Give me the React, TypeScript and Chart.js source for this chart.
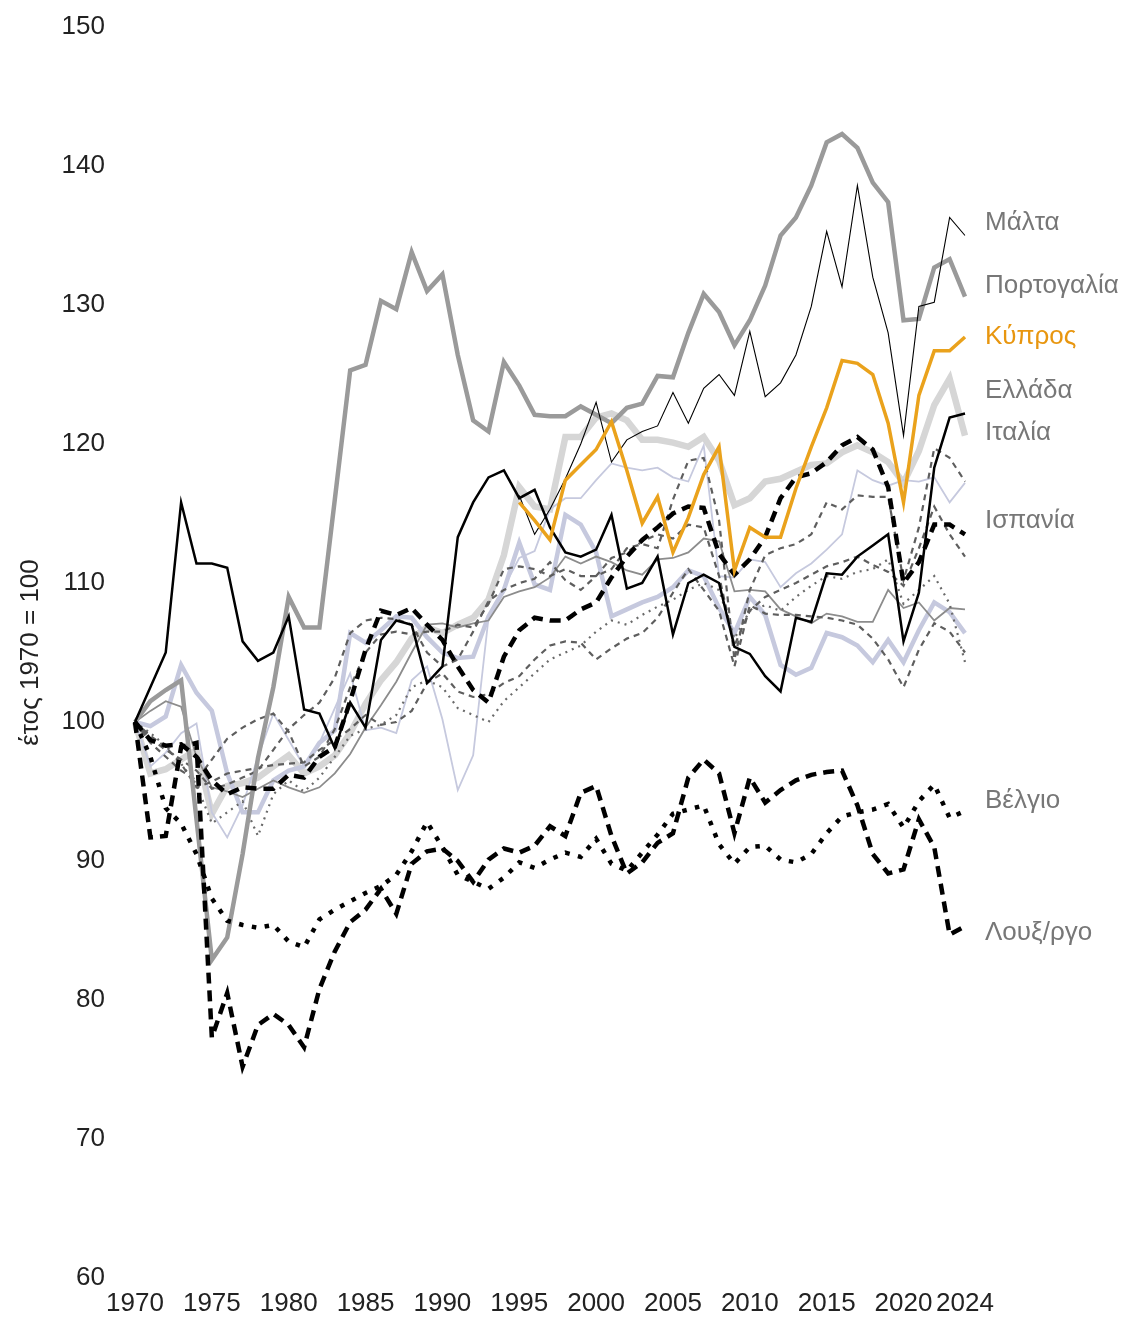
import React, { useEffect, useRef } from "react";
import { Chart, registerables } from "chart.js";

Chart.register(...registerables);

const years = [
  "1970","1971","1972","1973","1974","1975","1976","1977","1978","1979",
  "1980","1981","1982","1983","1984","1985","1986","1987","1988","1989",
  "1990","1991","1992","1993","1994","1995","1996","1997","1998","1999",
  "2000","2001","2002","2003","2004","2005","2006","2007","2008","2009",
  "2010","2011","2012","2013","2014","2015","2016","2017","2018","2019",
  "2020","2021","2022","2023","2024",
];

const xTickLabels = ["1970","1975","1980","1985","1990","1995","2000","2005","2010","2015","2020","2024"];
const yTicks = [60, 70, 80, 90, 100, 110, 120, 130, 140, 150];

const N = null;

const portugal = [
  100, 101.5, 102.3, 103, 93, 82.9, 84.5, 90.5, 97.4, 102.5,
  109, 106.8, 106.8, 116, 125.3, 125.7, 130.3, 129.7, 133.8, 131,
  132.2, 126.4, 121.7, 120.9, 125.9, 124.2, 122.1, 122, 122, 122.7,
  122.1, 121.5, 122.6, 122.9, 124.9, 124.8, 128, 130.8, 129.5, 127.1,
  128.9, 131.4, 135, 136.3, 138.6, 141.7, 142.3, 141.3, 138.8, 137.4,
  128.9, 129, 132.7, 133.3, 130.6,
];

const malta = [
  N, N, N, N, N, N, N, N, N, N,
  N, N, N, N, N, N, N, N, N, N,
  N, N, N, N, N, 116.3, 113.5, 115.3, 117.5, 120,
  123, 118.7, 120.3, 120.9, 121.3, 123.7, 121.5, 124, 125, 123.5,
  128.1, 123.4, 124.4, 126.4, 129.9, 135.3, 131.3, 138.6, 132, 128,
  120.6, 129.9, 130.2, 136.3, 135,
];

const cyprus = [
  N, N, N, N, N, N, N, N, N, N,
  N, N, N, N, N, N, N, N, N, N,
  N, N, N, N, N, 115.8, 114.5, 113.1, 117.4, 118.5,
  119.6, 121.6, 118.1, 114.3, 116.2, 112.2, 114.7, 117.8, 119.8, 110.9,
  114, 113.3, 113.3, 116.8, 119.8, 122.6, 126, 125.8, 125, 121.5,
  115.8, 123.5, 126.7, 126.7, 127.7,
];

const greece = [
  100, 96.3, 96.6, 97.3, 98, 93.4, 95.4, 95.6, 96, 96.8,
  97.6, 96.3, 96.8, 97.6, 99.2, 101.3, 103, 104.3, 106, 106.8,
  106.4, 107, 107.5, 108.8, 112, 116.9, 115.5, 115.3, 120.5, 120.5,
  121.9, 122.2, 121.7, 120.3, 120.3, 120.1, 119.8, 120.5, 118.8, 115.6,
  116.1, 117.3, 117.5, 118, 118.5, 118.6, 119.4, 119.9, 119.4, 118.7,
  117.2, 119.5, 122.8, 124.7, 120.6,
];

const italy = [
  100, 102.5, 105, 115.8, 111.4, 111.4, 111.1, 105.8, 104.4, 105,
  107.6, 100.9, 100.6, 98.1, 101.4, 99.6, 105.9, 107.3, 107, 102.8,
  104, 113.3, 115.8, 117.6, 118.1, 116.1, 116.7, 114, 112.2, 111.9,
  112.4, 114.9, 109.6, 110, 111.9, 106.3, 110, 110.6, 110, 105.4,
  104.9, 103.3, 102.2, 107.5, 107.2, 110.7, 110.6, 111.9, 112.7, 113.5,
  105.8, 109.3, 118.3, 121.9, 122.2,
];

const spain = [
  100, 98.7, 98.3, 98.4, 97.5, 95.8, 94.8, 95.3, 95.2, 95.2,
  96.2, 96, 97.5, 98.2, 101.5, 105.2, 108, 107.7, 108.2, 107,
  105.9, 104, 102.3, 101.4, 104.7, 106.6, 107.5, 107.3, 107.3, 108.1,
  108.6, 110.4, 111.9, 113.1, 114, 115, 115.5, 115.4, 112.1, 110.6,
  111.7, 113.3, 116.1, 117.6, 117.9, 118.7, 119.9, 120.5, 119.6, 116.9,
  110, 111.5, 114.2, 114.2, 113.5,
];

const belgium = [
  100, 97.5, 93.8, 92.7, 90.5, 87.3, 85.7, 85.4, 85.2, 85.4,
  84.2, 83.8, 85.8, 86.5, 87.1, 87.7, 88.2, 89, 90.7, 92.8,
  91, 89, 88.5, 88, 88.8, 89.9, 89.5, 90.1, 90.6, 90.3,
  91.6, 89.8, 89.3, 90.6, 91.9, 93.4, 93.7, 94, 91.2, 89.8,
  91, 91.1, 90.1, 89.9, 90.5, 92, 93.2, 93.5, 93.7, 94.1,
  92.4, 94.3, 95.5, 93.1, 93.6,
];

const luxembourg = [
  100, 91.7, 91.8, 98.2, 98.5, 77.3, 80.5, 75.2, 78.2, 79,
  78.2, 76.6, 80.8, 83.5, 85.6, 86.5, 88, 86.2, 89.8, 90.7,
  90.9, 90, 88.5, 90.1, 90.9, 90.6, 91.1, 92.5, 91.8, 94.9,
  95.4, 91.8, 89.1, 89.9, 91.3, 92, 96, 97.3, 96.3, 92,
  96, 94.2, 95.1, 95.8, 96.2, 96.4, 96.5, 94, 90.5, 89.1,
  89.4, 93, 91, 84.7, 85.3,
];

const blueThick = [
  100, 99.7, 100.4, 104.1, 102.1, 100.8, 96.3, 93.5, 93.5, 95.8,
  96.5, 96.8, 98.5, 99.4, 106.4, 105.7, 106.6, 107.6, 107.5, 106.1,
  105, 104.6, 104.7, 107.6, 109.5, 112.9, 109.9, 109.5, 114.9, 114.2,
  112.2, 107.6, 108.1, 108.6, 109, 109.7, 110.9, 110.5, 108.2, 106.4,
  109, 107.7, 104.1, 103.4, 103.9, 106.4, 106.1, 105.5, 104.3, 105.9,
  104.3, 106.6, 108.6, 107.9, 106.4,
];

const blueThin = [
  100, 96.8, 97.8, 99.2, 99.9, 93.5, 91.7, 94, 97.5, 100.6,
  98.7, 96.8, 98.5, 101, 103.5, 99.4, 99.6, 99.2, 103, 104,
  100.2, 95.1, 97.6, 107.5, 109.7, 111.8, 112.3, 115.3, 116.1, 116.1,
  117.4, 118.6, 118.3, 118.1, 118.3, 117.6, 117.3, 119.9, 110.5, 110.4,
  111.7, 111.5, 109.7, 110.7, 111.4, 112.4, 113.5, 118.1, 117.4, 117,
  117.4, 117.3, 117.6, 115.8, 117.2,
];

const graySolid = [
  100, 100.8, 101.5, 101.1, 97.5, 95.3, 95, 94.6, 95.2, 95.8,
  95.3, 94.9, 95.3, 96.3, 97.7, 99.6, 101.2, 102.9, 105, 107,
  107.1, 106.8, 107.1, 107.3, 109, 109.4, 109.7, 110.4, 111.9, 111.4,
  111.9, 111.5, 110.9, 110.6, 111.7, 111.8, 112.2, 113.2, 113, 109.4,
  109.5, 109.4, 108.1, 107.6, 107.1, 107.8, 107.6, 107.2, 107.2, 109.5,
  108.2, 108.6, 107.3, 108.2, 108.1,
];

const dashedA = [
  100, 98.5, 97.5, 96.5, 95.8, 97.3, 98.8, 99.6, 100.2, 100.6,
  99.3, 96.8, 97.5, 99.5, 102.5, 105, 106.3, 106.5, 106.3, 106.5,
  106.5, 107, 106.8, 108.5, 111, 111.2, 111, 110.5, 111, 110.5,
  110.5, 111, 112.5, 112.8, 112.5, 116, 118.8, 119, 114.5, 104.5,
  109.5, 112, 112.5, 112.8, 113.5, 115.8, 115.3, 116.3, 116.2, 116.2,
  110.2, 114, 119.7, 119, 117.3,
];

const dashedB = [
  100, 98.8, 98, 97.3, 96.5, 95.2, 95.5, 96, 96.5, 98,
  99.5, 100.5, 101.4, 103.2, 106.4, 107.3, 107.5, 107.4, 107, 105,
  104, 104.5, 106.5, 108.7, 109.5, 110, 110.3, 111.5, 110.2, 109.5,
  110.5, 111.8, 112.2, 113, 113.5, 113.2, 114.2, 114, 110.5, 105.5,
  108, 109, 109.5, 110, 110.6, 111.2, 111.5, 111.9, 111.3, 110.8,
  109.8, 112.5, 115.5, 113.5, 111.9,
];

const dashedC = [
  100, 99, 98.2, 97, 95.3, 95.7, 96.3, 96.5, 96.7, 96.9,
  97, 97.1, 98, 98.7, 99.5, 100.5, 99.8, 100, 100.8, 102.8,
  103.5, 102.2, 101.8, 102, 102.8, 103.3, 104.5, 105.5, 105.8, 105.7,
  104.5, 105.3, 106, 106.4, 107.5, 109.3, 111, 109.5, 108, 104,
  108.4, 107.8, 107.7, 107.7, 107.6, 107.5, 107.3, 107, 106, 104.5,
  102.5, 105.2, 107.1, 106.5, 105,
];

const dottedA = [
  100, 99.2, 98.3, 97, 95.5, 92.7, 93.5, 94.3, 91.8, 94.8,
  95.8, 95, 96, 97.5, 99, 99.5, 99.8, 100.5, 102.5, 103,
  102.5, 101, 100.5, 100, 101.5, 102.5, 103.5, 104.5, 105, 105.5,
  106.5, 107.3, 107, 107.7, 108.3, 108.8, 109.5, 110, 109.5, 106,
  108, 108.4, 108, 109, 109.8, 110.5, 110.3, 110.8, 111, 111.7,
  108.5, 109.5, 110.5, 108.5, 104.3,
];

const labelNames = ["Μάλτα", "Πορτογαλία", "Κύπρος", "Ελλάδα", "Ιταλία", "Ισπανία", "Βέλγιο", "Λουξ/ργο"];
const labelValues = [135.9, 131.4, 127.7, 123.8, 120.8, 114.5, 94.3, 84.8];
const labelColors = ["#777777", "#777777", "#e8960f", "#777777", "#777777", "#777777", "#777777", "#777777"];

const FONT = '"Liberation Sans", Arial, sans-serif';

const endLabels = {
  id: "endLabels",
  afterDatasetsDraw(chart: any) {
    const { ctx, chartArea, scales } = chart;
    const y = scales.y;
    ctx.save();
    ctx.font = `26px ${FONT}`;
    ctx.textAlign = "left";
    ctx.textBaseline = "middle";
    labelNames.forEach((name, i) => {
      ctx.fillStyle = labelColors[i];
      ctx.fillText(name, chartArea.right + 20, y.getPixelForValue(labelValues[i]));
    });
    ctx.restore();
  },
};

function line(data: (number | null)[], color: string, width: number, dash: number[] = []) {
  return {
    data,
    borderColor: color,
    backgroundColor: color,
    borderWidth: width,
    borderDash: dash,
    borderCapStyle: "butt" as const,
    borderJoinStyle: "miter" as const,
    pointRadius: 0,
    tension: 0,
    fill: false,
    spanGaps: false,
  };
}

export default function App() {
  const ref = useRef<HTMLCanvasElement | null>(null);

  useEffect(() => {
    if (!ref.current) return;
    const chart = new Chart(ref.current, {
      type: "line",
      data: {
        labels: years,
        datasets: [
          { label: "Κύπρος", ...line(cyprus, "#eaa21c", 3.5) },
          { label: "Μάλτα", ...line(malta, "#000000", 1.1) },
          { label: "Ιταλία", ...line(italy, "#000000", 2.5) },
          { label: "Ισπανία", ...line(spain, "#000000", 4.5, [11, 7]) },
          { label: "Λουξ/ργο", ...line(luxembourg, "#000000", 4.5, [11, 7]) },
          { label: "Βέλγιο", ...line(belgium, "#000000", 4.5, [4.5, 8.5]) },
          { label: "Πορτογαλία", ...line(portugal, "#9a9a9a", 4.5) },
          { label: "A", ...line(dashedA, "#5e5e5e", 2.2, [6, 5]) },
          { label: "B", ...line(dashedB, "#5e5e5e", 2.2, [6, 5]) },
          { label: "C", ...line(dashedC, "#5e5e5e", 2.2, [6, 5]) },
          { label: "D", ...line(dottedA, "#6a6a6a", 2.2, [2, 5]) },
          { label: "E", ...line(graySolid, "#8c8c8c", 1.8) },
          { label: "F", ...line(blueThin, "#c6c9de", 1.8) },
          { label: "G", ...line(blueThick, "#c6c9de", 4.5) },
          { label: "Ελλάδα", ...line(greece, "#d6d6d6", 6.5) },
        ],
      },
      options: {
        animation: false,
        responsive: false,
        layout: { padding: { top: 27, right: 161, bottom: 0, left: 0 } },
        plugins: {
          legend: { display: false },
          tooltip: { enabled: false },
        },
        scales: {
          x: {
            type: "category",
            offset: false,
            grid: { display: false, drawTicks: false },
            border: { display: false },
            afterFit: (scale: any) => {
              scale.height = 40;
            },
            ticks: {
              autoSkip: false,
              maxRotation: 0,
              minRotation: 0,
              padding: 10,
              color: "#222222",
              font: { family: FONT, size: 26 },
              callback: function (this: any, _v: any, i: number) {
                const lab = years[i];
                return xTickLabels.includes(lab) ? lab : "";
              },
            },
          },
          y: {
            min: 60,
            max: 150,
            grid: {
              display: true,
              drawOnChartArea: false,
              drawTicks: true,
              tickLength: 30,
              color: "rgba(0,0,0,0)",
            },
            border: { display: false },
            afterFit: (scale: any) => {
              scale.width = 135;
            },
            afterBuildTicks: (scale: any) => {
              scale.ticks = yTicks.map((v) => ({ value: v }));
            },
            ticks: {
              padding: 0,
              color: "#222222",
              font: { family: FONT, size: 26 },
            },
            title: {
              display: true,
              text: "έτος 1970 = 100",
              color: "#222222",
              font: { family: FONT, size: 26 },
              padding: { top: 15, bottom: 0 },
            },
          },
        },
      },
      plugins: [endLabels],
    });
    return () => chart.destroy();
  }, []);

  return (
    <div style={{ position: "absolute", left: 0, top: 0, width: 1126, height: 1318 }}>
      <canvas ref={ref} width={1126} height={1318} style={{ display: "block" }} />
    </div>
  );
}
